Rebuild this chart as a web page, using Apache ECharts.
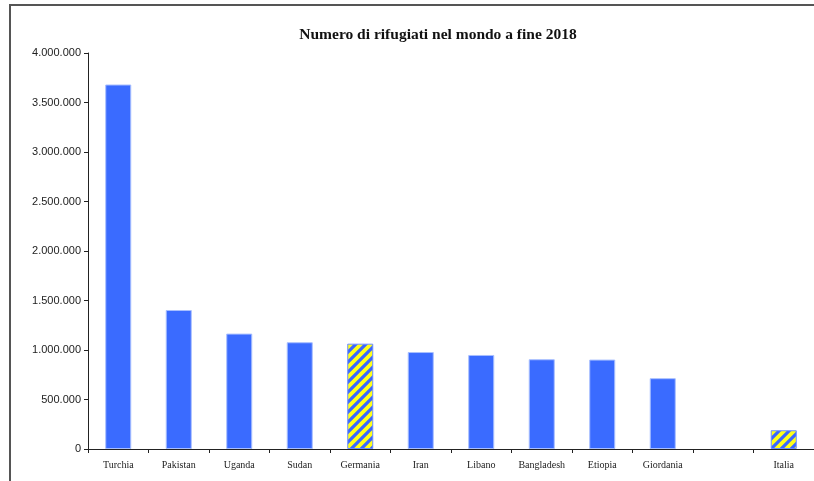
<!DOCTYPE html>
<html>
<head>
<meta charset="utf-8">
<script src="https://cdn.jsdelivr.net/npm/echarts@6/dist/echarts.min.js"></script>
<style>html,body{margin:0;padding:0;background:#fff;}#c{width:814px;height:481px;}</style>
</head>
<body>
<div id="c"></div>
<script>
var categories = ['Turchia', 'Pakistan', 'Uganda', 'Sudan', 'Germania', 'Iran', 'Libano', 'Bangladesh', 'Etiopia', 'Giordania', '', 'Italia'];
var refugees = [3681685, 1404019, 1165653, 1078287, 1063837, 979435, 949666, 906645, 903226, 715312, null, 189243];
var hatched = ['Germania', 'Italia'];
var titleText = 'Numero di rifugiati nel mondo a fine 2018';

function makeHatch() {
  var s = 10;
  var c = document.createElement('canvas');
  c.width = s; c.height = s;
  var g = c.getContext('2d');
  g.fillStyle = '#ffff1a';
  g.fillRect(0, 0, s, s);
  g.strokeStyle = '#3a66ff';
  g.lineWidth = 3.2;
  g.beginPath();
  g.moveTo(-s / 2, s / 2); g.lineTo(s / 2, -s / 2);
  g.moveTo(0, s); g.lineTo(s, 0);
  g.moveTo(s / 2, s * 1.5); g.lineTo(s * 1.5, s / 2);
  g.stroke();
  return c;
}
var hatchCanvas = makeHatch();

function fmt(v) {
  return String(v).replace(/\B(?=(\d{3})+(?!\d))/g, '.');
}

var data = refugees.map(function (v, i) {
  if (hatched.indexOf(categories[i]) >= 0) {
    return { value: v, itemStyle: { color: { image: hatchCanvas, repeat: 'repeat' }, borderColor: '#6a8cff', borderWidth: 1 } };
  }
  return v;
});

var chart = echarts.init(document.getElementById('c'), null, { renderer: 'canvas' });
chart.setOption({
  backgroundColor: '#fff',
  animation: false,
  title: {
    text: titleText,
    left: 433, top: 22, textAlign: 'center',
    textStyle: { fontFamily: 'Liberation Serif', fontWeight: 'bold', fontSize: 15.5, color: '#111' }
  },
  graphic: [{
    type: 'rect',
    shape: { x: 10, y: 5, width: 900, height: 600 },
    style: { fill: 'none', stroke: '#555', lineWidth: 2 },
    silent: true, z: 100
  }],
  grid: { left: 88, top: 53, width: 728, height: 396, containLabel: false },
  xAxis: {
    type: 'category',
    data: categories,
    axisLine: { lineStyle: { color: '#222', width: 1 } },
    axisTick: { show: true, length: 4, inside: false, lineStyle: { color: '#222' } },
    axisLabel: { interval: 0, margin: 11, fontFamily: 'Liberation Serif', fontSize: 10, color: '#222' },
    splitLine: { show: false }
  },
  yAxis: {
    type: 'value',
    min: 0, max: 4000000, interval: 500000,
    axisLine: { show: true, lineStyle: { color: '#222', width: 1 } },
    axisTick: { show: true, length: 4, lineStyle: { color: '#222' } },
    axisLabel: { formatter: fmt, margin: 7, fontFamily: 'Liberation Sans', fontSize: 11, color: '#222' },
    splitLine: { show: false }
  },
  series: [{
    type: 'bar',
    data: data,
    barWidth: '43%',
    itemStyle: { color: '#3a6bff', borderColor: '#a8bfff', borderWidth: 1 }
  }]
});
</script>
</body>
</html>
